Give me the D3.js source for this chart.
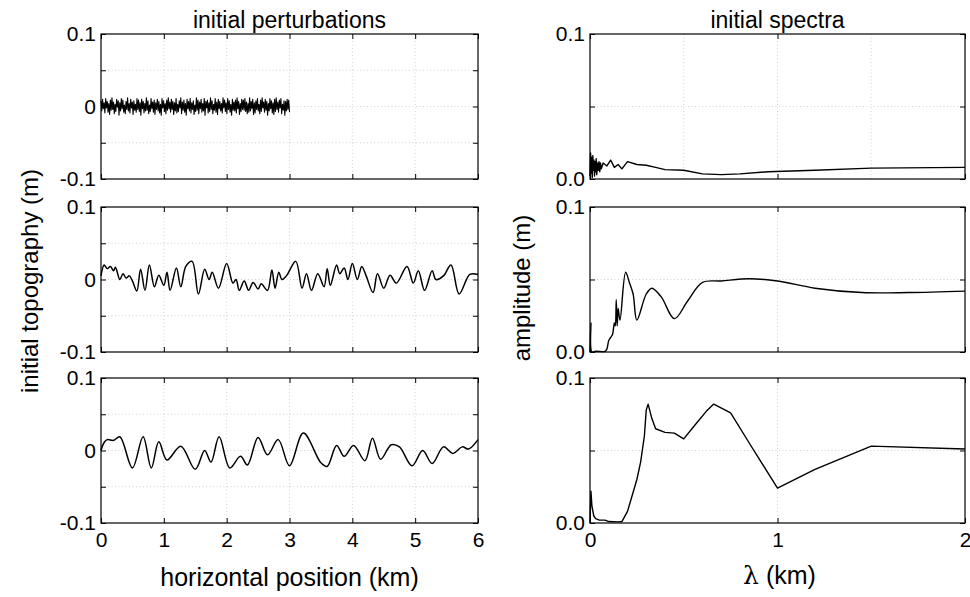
<!DOCTYPE html>
<html>
<head>
  <meta charset="utf-8">
  <title>Initial perturbations and spectra</title>
  <script src="https://d3js.org/d3.v7.min.js"></script>
  <style>
    body { margin: 0; background: #fff; }
    svg { font-family: "Liberation Sans", Arial, Helvetica, sans-serif; }
    .tick text { font-size: 21px; fill: #000; }
    .tick line { stroke: #000; }
    .grid { stroke: #d2d2d2; stroke-dasharray: 1 2.5; stroke-width: 1; }
    .curve { fill: none; stroke: #000; stroke-linejoin: round; }
  </style>
</head>
<body>
  <div id="chart"></div>

  <script>
    const width = 970, height = 597;

    // top-left: short-wavelength noise over 0..3 km (mm, evenly spaced)
    const noiseMm = [8,-6,10,-3,5,-9,11,-2,7,-8,4,-11,9,-5,12,-4,6,-10,3,-7,10,-1,8,-12,5,-6,11,-3,9,-8,
      2,-10,7,-4,12,-6,4,-9,10,-2,6,-11,8,-5,3,-8,11,-4,9,-7,5,-12,10,-3,7,-9,4,-6,12,-5,
      8,-10,2,-7,11,-3,6,-8,9,-11,5,-4,10,-6,7,-9,3,-12,11,-2,8,-7,4,-10,9,-5,12,-3,6,-8,
      10,-4,7,-11,5,-6,11,-9,3,-7,8,-2,12,-10,6,-5,9,-8,4,-12,10,-3,7,-6,11,-9,5,-4,8,-11,
      2,-7,12,-5,9,-10,6,-3,10,-8,4,-6,11,-12,7,-2,9,-9,5,-7,12,-4,8,-10,3,-5,11,-8,6,-11,
      10,-3,7,-6,4,-9,12,-2,9,-7,5,-10,11,-4,8,-8,3,-12,10,-5,6,-6,9,-9,12,-3,7,-11,4,-7,10,-4,
      9,-5,11,-7,6,-10,4,-8,12,-6,7,-3,10,-11,5,-9,8,-4,11,-6,3,-10,9,-7,12,-2,6,-8,10,-5,
      7,-12,4,-6,11,-3,8,-9,5,-11,10,-7,12,-4,6,-8,9,-2,11,-10,3,-5,8,-12,7,-6,10,-4,9,-8];
    const noiseEnd = 3;

    // middle-left: [km, m]
    const topoMid = [[0,0.005],[0.05,0.02],[0.1,0.015],[0.15,0.018],[0.2,0.012],[0.23,0.017],[0.3,0],
      [0.35,0.008],[0.4,0.002],[0.45,0.005],[0.5,-0.002],[0.57,-0.016],[0.63,0.014],[0.7,-0.015],
      [0.77,0.02],[0.85,-0.01],[0.92,0.006],[1.0,-0.008],[1.05,0.01],[1.1,-0.015],[1.2,0.016],
      [1.27,-0.01],[1.35,0.018],[1.45,0.025],[1.55,-0.02],[1.65,0.014],[1.72,0],[1.77,0.01],
      [1.87,-0.012],[2.0,0.022],[2.1,-0.005],[2.15,0],[2.2,-0.015],[2.28,-0.002],[2.35,-0.015],
      [2.42,-0.004],[2.5,-0.013],[2.55,-0.006],[2.65,-0.015],[2.72,0.013],[2.77,-0.012],[2.83,0.01],
      [2.88,0],[2.95,0.005],[3.1,0.025],[3.2,-0.012],[3.27,0.008],[3.35,-0.015],[3.45,0.008],
      [3.55,-0.01],[3.6,0.015],[3.65,-0.008],[3.75,0.02],[3.8,0.008],[3.87,0.016],[3.93,0],
      [4.0,0.022],[4.08,0],[4.15,0.018],[4.22,0.005],[4.33,-0.018],[4.4,0.008],[4.5,-0.012],
      [4.6,0.006],[4.7,-0.005],[4.87,0.018],[4.97,-0.005],[5.05,0.012],[5.15,-0.015],[5.27,0.012],
      [5.33,0],[5.45,0.005],[5.57,0.02],[5.7,-0.02],[5.87,0.007],[6.0,0.007]];

    // bottom-left: [km, m]
    const topoBot = [[0,0],[0.05,0.011],[0.1,0.015],[0.2,0.014],[0.3,0.019],[0.5,-0.024],[0.67,0.019],
      [0.8,-0.024],[0.92,0.012],[1.05,-0.013],[1.27,0.006],[1.5,-0.026],[1.65,0],[1.75,-0.016],
      [1.88,0.019],[2.05,-0.024],[2.22,-0.008],[2.33,-0.02],[2.5,0.018],[2.65,-0.006],[2.82,0.015],
      [3.0,-0.021],[3.22,0.024],[3.5,-0.017],[3.6,-0.022],[3.75,0.007],[3.87,-0.008],[4.02,0.007],
      [4.2,-0.014],[4.32,0.017],[4.45,-0.012],[4.62,0.008],[4.75,0.005],[4.95,-0.021],[5.12,0],
      [5.27,-0.018],[5.45,0.005],[5.6,-0.004],[5.75,0.005],[5.85,0.002],[6.0,0.015]];

    // spectra: [lambda km, amplitude m]
    const specTop = [[0,0.002],[0.003,0.018],[0.006,0.004],[0.009,0.015],[0.012,0.001],[0.015,0.016],
      [0.018,0.006],[0.021,0.013],[0.024,0.002],[0.027,0.012],[0.03,0.005],[0.033,0.014],[0.036,0.003],
      [0.04,0.011],[0.044,0.006],[0.048,0.012],[0.052,0.005],[0.056,0.011],[0.06,0.007],[0.07,0.011],
      [0.09,0.009],[0.11,0.013],[0.13,0.008],[0.15,0.01],[0.17,0.007],[0.2,0.012],[0.25,0.01],
      [0.3,0.0095],[0.35,0.008],[0.4,0.0065],[0.5,0.006],[0.6,0.0035],[0.7,0.003],[0.8,0.0035],
      [0.95,0.005],[1.2,0.006],[1.5,0.0075],[2.0,0.008]];

    const specMid = [[0,0],[0.005,0.02],[0.01,0],[0.03,0.0005],[0.08,0.0005],[0.09,0.002],[0.1,0.008],
      [0.11,0.01],[0.12,0.012],[0.13,0.02],[0.135,0.018],[0.14,0.036],[0.145,0.018],[0.15,0.03],
      [0.16,0.022],[0.19,0.055],[0.21,0.048],[0.23,0.04],[0.25,0.022],[0.3,0.04],[0.33,0.044],
      [0.38,0.038],[0.45,0.023],[0.52,0.035],[0.6,0.048],[0.7,0.049],[0.85,0.0505],[1.0,0.049],
      [1.2,0.044],[1.45,0.041],[1.7,0.041],[2.0,0.042]];

    const specBot = [[0,0],[0.005,0.022],[0.01,0.012],[0.02,0.005],[0.03,0.003],[0.05,0.002],[0.08,0.002],
      [0.1,0.001],[0.15,0.0008],[0.17,0.001],[0.2,0.008],[0.25,0.03],[0.27,0.042],[0.29,0.06],
      [0.3,0.078],[0.31,0.082],[0.33,0.072],[0.35,0.065],[0.4,0.0625],[0.45,0.062],[0.5,0.058],
      [0.55,0.066],[0.62,0.077],[0.66,0.082],[0.75,0.076],[0.85,0.055],[1.0,0.024],[1.2,0.037],
      [1.5,0.053],[2.0,0.051]];

    const topoYTicks = [-0.1, -0.05, 0, 0.05, 0.1];
    const topoYLabels = {"-0.1": "-0.1", "0": "0", "0.1": "0.1"};
    const topoXTicks = [0, 1, 2, 3, 4, 5, 6];
    const specYTicks = [0, 0.05, 0.1];
    const specYLabels = {"0": "0.0", "0.1": "0.1"};
    const specXTicks = [0, 1, 2];

    const svg = d3.select("#chart").append("svg").attr("width", width).attr("height", height);

    const rowTop = [34, 207, 378], rowH = 145;
    const leftX = 101, leftW = 377, rightX = 590, rightW = 375;

    function panel(x0, y0, w, cfg) {
      const g = svg.append("g").attr("transform", `translate(${x0},${y0})`);
      const x = d3.scaleLinear().domain(cfg.xDomain).range([0, w]);
      const y = d3.scaleLinear().domain(cfg.yDomain).range([rowH, 0]);

      // dotted grid
      g.selectAll(".gx").data(cfg.gridX).enter().append("line").attr("class", "grid")
        .attr("x1", d => x(d)).attr("x2", d => x(d)).attr("y1", 0).attr("y2", rowH);
      g.selectAll(".gy").data(cfg.gridY).enter().append("line").attr("class", "grid")
        .attr("x1", 0).attr("x2", w).attr("y1", d => y(d)).attr("y2", d => y(d));

      // inside ticks on all four sides
      const fmtY = d => cfg.yLabels[String(d)] || "";
      g.append("g").call(d3.axisLeft(y).tickValues(cfg.yTicks).tickSize(-5).tickPadding(5).tickFormat(fmtY));
      g.append("g").attr("transform", `translate(${w},0)`)
        .call(d3.axisRight(y).tickValues(cfg.yTicks).tickSize(-5).tickFormat(""));
      g.append("g").attr("transform", `translate(0,${rowH})`)
        .call(d3.axisBottom(x).tickValues(cfg.xTicks).tickSize(-5).tickPadding(9)
          .tickFormat(cfg.xLabels ? d3.format("d") : ""));
      g.append("g").call(d3.axisTop(x).tickValues(cfg.xTicks).tickSize(-5).tickFormat(""));
      g.selectAll(".domain").remove();
      g.selectAll(".tick text").attr("font-family", null).attr("font-size", null);

      const line = d3.line().x(d => x(d[0])).y(d => y(d[1])).curve(cfg.curve);
      g.append("path").datum(cfg.data).attr("class", "curve")
        .attr("stroke-width", cfg.lw).attr("d", line);

      g.append("rect").attr("width", w).attr("height", rowH)
        .attr("fill", "none").attr("stroke", "#000").attr("stroke-width", 1.2);
    }

    const noiseData = noiseMm.map((v, i) => [i * noiseEnd / (noiseMm.length - 1), v / 1000]);
    const leftData = [noiseData, topoMid, topoBot];
    const rightData = [specTop, specMid, specBot];

    leftData.forEach((data, i) => {
      panel(leftX, rowTop[i], leftW, {
        xDomain: [0, 6], yDomain: [-0.1, 0.1],
        xTicks: topoXTicks, yTicks: topoYTicks, yLabels: topoYLabels,
        gridX: [1, 2, 3, 4, 5], gridY: [-0.05, 0, 0.05],
        xLabels: i === 2, data: data,
        curve: i === 0 ? d3.curveLinear : d3.curveCatmullRom.alpha(0.5),
        lw: i === 0 ? 1.1 : 1.5
      });
    });

    rightData.forEach((data, i) => {
      panel(rightX, rowTop[i], rightW, {
        xDomain: [0, 2], yDomain: [0, 0.1],
        xTicks: specXTicks, yTicks: specYTicks, yLabels: specYLabels,
        gridX: i === 0 ? [0.5, 1, 1.5] : [1], gridY: [0.05],
        xLabels: i === 2, data: data,
        curve: i === 1 ? d3.curveCatmullRom.alpha(0.5) : d3.curveLinear,
        lw: 1.4
      });
    });

    // titles and axis labels
    svg.append("text").attr("x", leftX + leftW / 2).attr("y", 28).attr("text-anchor", "middle")
      .attr("font-size", 23).text("initial perturbations");
    svg.append("text").attr("x", rightX + rightW / 2).attr("y", 28).attr("text-anchor", "middle")
      .attr("font-size", 23).text("initial spectra");

    svg.append("text").attr("x", leftX + leftW / 2).attr("y", 586).attr("text-anchor", "middle")
      .attr("font-size", 25).text("horizontal position (km)");
    const lam = svg.append("text").attr("x", rightX + rightW / 2 + 2).attr("y", 584)
      .attr("text-anchor", "middle").attr("font-size", 25);
    lam.append("tspan").attr("font-family", "'DejaVu Serif', 'Liberation Serif', serif").text("λ");
    lam.append("tspan").text(" (km)");

    svg.append("text").attr("transform", `translate(38,281) rotate(-90)`)
      .attr("text-anchor", "middle").attr("font-size", 24).text("initial topography (m)");
    svg.append("text").attr("transform", `translate(530,288) rotate(-90)`)
      .attr("text-anchor", "middle").attr("font-size", 24).text("amplitude (m)");
  </script>
</body>
</html>
